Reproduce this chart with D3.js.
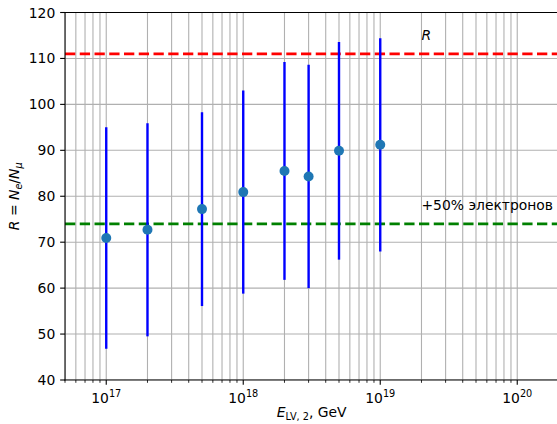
<!DOCTYPE html>
<html>
<head>
<meta charset="utf-8">
<script src="https://cdn.jsdelivr.net/npm/d3@7"></script>
<style>
  html, body { margin: 0; padding: 0; background: #fff; }
  svg { display: block; font-family: "DejaVu Sans", sans-serif; }
</style>
</head>
<body>
<svg id="chart" width="557" height="424"></svg>
<script>
// ---- data ----
const energies = [1e17, 2e17, 5e17, 1e18, 2e18, 3e18, 5e18, 1e19];
const ratios   = [70.9, 72.7, 77.2, 80.9, 85.5, 84.3, 89.9, 91.2];
const errors   = [24.1, 23.2, 21.1, 22.1, 23.7, 24.3, 23.7, 23.2];
const refLines = [111, 74];
const refColors = ["#ff0000", "#008000"];
const yTicks = [40, 50, 60, 70, 80, 90, 100, 110, 120];
const xMajorExps = [17, 18, 19, 20];
const annotations = [
  {x: 2e19, y: 114, text: "R", italic: true},
  {x: 2e19, y: 77, text: "+50% электронов", italic: false}
];

// ---- layout ----
const svg = d3.select("#chart");
const pLeft = 65, pTop = 12.5, pBottom = 380;
const decade = 137.0;
const xDomain = [5e16, 2e20];
const pRight = pLeft + (Math.log10(xDomain[1]) - Math.log10(xDomain[0])) * decade;

const x = d3.scaleLog().domain(xDomain).range([pLeft, pRight]);
const y = d3.scaleLinear().domain([40, 120]).range([pBottom, pTop]);

const fs = 13.9;
const tickLen = 4.86;

svg.append("defs").append("clipPath").attr("id", "clip")
  .append("rect").attr("x", pLeft).attr("y", pTop).attr("width", pRight - pLeft).attr("height", pBottom - pTop);

// grid
const minorVals = [];
for (let e = 16; e <= 20; e++) for (let m = 1; m <= 9; m++) {
  const v = m * Math.pow(10, e);
  if (v >= xDomain[0] * 0.999 && v <= xDomain[1] * 1.001) minorVals.push(v);
}
const grid = svg.append("g").attr("clip-path", "url(#clip)");
grid.selectAll("line.vg").data(minorVals).enter().append("line")
  .attr("x1", d => x(d)).attr("x2", d => x(d)).attr("y1", pTop).attr("y2", pBottom)
  .attr("stroke", "#b0b0b0").attr("stroke-width", 1.1);
grid.selectAll("line.hg").data(yTicks).enter().append("line")
  .attr("x1", pLeft).attr("x2", pRight).attr("y1", d => y(d)).attr("y2", d => y(d))
  .attr("stroke", "#b0b0b0").attr("stroke-width", 1.1);

const plot = svg.append("g").attr("clip-path", "url(#clip)");
// reference lines
plot.selectAll("line.ref").data(refLines).enter().append("line")
  .attr("x1", pLeft).attr("x2", pRight).attr("y1", d => y(d)).attr("y2", d => y(d))
  .attr("stroke", (d, i) => refColors[i]).attr("stroke-width", 2.78)
  .attr("stroke-dasharray", "10.3,4.45");

// error bars
const pts = energies.map((e, i) => ({e, r: ratios[i], err: errors[i]}));
plot.selectAll("line.err").data(pts).enter().append("line")
  .attr("x1", d => x(d.e)).attr("x2", d => x(d.e))
  .attr("y1", d => y(d.r - d.err)).attr("y2", d => y(d.r + d.err))
  .attr("stroke", "#0000ff").attr("stroke-width", 2.4);
plot.selectAll("circle").data(pts).enter().append("circle")
  .attr("cx", d => x(d.e)).attr("cy", d => y(d.r)).attr("r", 5)
  .attr("fill", "#1f77b4");

// annotations
annotations.forEach(a => {
  svg.append("text").attr("x", x(a.x)).attr("y", y(a.y))
    .attr("font-size", fs).attr("fill", "#000")
    .attr("font-style", a.italic ? "italic" : "normal")
    .text(a.text);
});

// spines
[[pLeft, pLeft, pTop, pBottom], [pLeft, pRight, pBottom, pBottom],
 [pLeft, pRight, pTop, pTop], [pRight, pRight, pTop, pBottom]].forEach(s => {
  svg.append("line").attr("x1", s[0]).attr("x2", s[1]).attr("y1", s[2]).attr("y2", s[3])
    .attr("stroke", "#000").attr("stroke-width", 1.1).attr("stroke-linecap", "square");
});

// y axis ticks
const yAxis = svg.append("g");
yAxis.selectAll("line").data(yTicks).enter().append("line")
  .attr("x1", pLeft - tickLen).attr("x2", pLeft).attr("y1", d => y(d)).attr("y2", d => y(d))
  .attr("stroke", "#000").attr("stroke-width", 1.1);
yAxis.selectAll("text").data(yTicks).enter().append("text")
  .attr("x", pLeft - tickLen - 4.9).attr("y", d => y(d)).attr("dy", "0.36em")
  .attr("text-anchor", "end").attr("font-size", fs).attr("fill", "#000")
  .text(d => d);

// x axis ticks
const xAxis = svg.append("g");
const majors = xMajorExps.map(e => Math.pow(10, e));
const minors = minorVals.filter(v => !majors.some(m => Math.abs(v / m - 1) < 1e-6));
xAxis.selectAll("line.maj").data(majors).enter().append("line")
  .attr("x1", d => x(d)).attr("x2", d => x(d)).attr("y1", pBottom).attr("y2", pBottom + tickLen)
  .attr("stroke", "#000").attr("stroke-width", 1.1);
xAxis.selectAll("line.min").data(minors).enter().append("line")
  .attr("x1", d => x(d)).attr("x2", d => x(d)).attr("y1", pBottom).attr("y2", pBottom + 2.8)
  .attr("stroke", "#000").attr("stroke-width", 0.84);
const xl = xAxis.selectAll("text").data(xMajorExps).enter().append("text")
  .attr("x", d => x(Math.pow(10, d))).attr("y", pBottom + tickLen + 4.9 + 13)
  .attr("text-anchor", "middle").attr("font-size", fs).attr("fill", "#000");
xl.append("tspan").text("10");
xl.append("tspan").attr("font-size", fs * 0.7).attr("dy", -6).text(d => d);

// y label
const yl = svg.append("text")
  .attr("transform", `translate(19,${(pTop + pBottom) / 2}) rotate(-90)`)
  .attr("text-anchor", "middle").attr("font-size", fs).attr("fill", "#000");
yl.append("tspan").attr("font-style", "italic").text("R");
yl.append("tspan").text(" = ");
yl.append("tspan").attr("font-style", "italic").text("N");
yl.append("tspan").attr("font-style", "italic").attr("font-size", fs * 0.7).attr("dy", 3).text("e");
yl.append("tspan").attr("dy", -3).text("/");
yl.append("tspan").attr("font-style", "italic").text("N");
yl.append("tspan").attr("font-style", "italic").attr("font-size", fs * 0.7).attr("dy", 3).text("μ");

// x label
const xlab = svg.append("text")
  .attr("x", (pLeft + pRight) / 2).attr("y", 417)
  .attr("text-anchor", "middle").attr("font-size", fs).attr("fill", "#000");
xlab.append("tspan").attr("font-style", "italic").text("E");
xlab.append("tspan").attr("font-size", fs * 0.7).attr("dy", 3).text("LV, 2");
xlab.append("tspan").attr("dy", -3).text(", GeV");
</script>
</body>
</html>
